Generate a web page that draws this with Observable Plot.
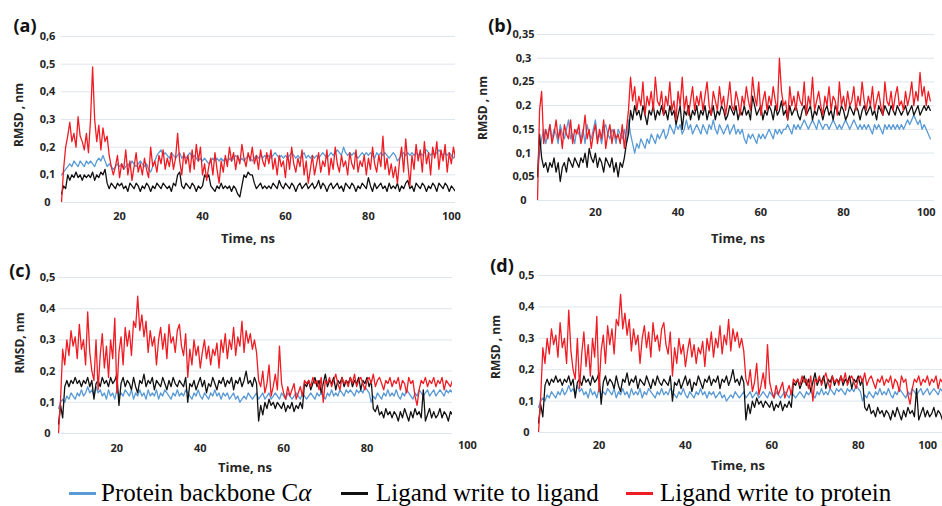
<!DOCTYPE html>
<html><head><meta charset="utf-8">
<script src="https://cdn.jsdelivr.net/npm/d3@7"></script>
<script src="https://cdn.jsdelivr.net/npm/@observablehq/plot@0.6"></script>
<style>
body{margin:0;background:#fff;overflow:hidden}
#root{position:relative;width:942px;height:506px;overflow:hidden;background:#fff}
#root svg{position:absolute;overflow:visible}
.leg{position:absolute;font-family:"Liberation Serif","Times New Roman",serif;font-size:25px;color:#000;white-space:nowrap;line-height:25px;top:480px}
.sw{position:absolute;height:3px;top:492px;width:27px}
</style></head><body><div id="root"></div>
<script>
// time grid: t = 6 ns + 0.5 ns * index
const T0 = 6, STEP = 0.5;
const seriesNames = ["Protein backbone Cα", "Ligand write to ligand", "Ligand write to protein"];
const seriesColors = ["#5b9bd5", "#111111", "#ee1d24"];

// Panel (a)
const blueA = [.1,.11,.12,.13,.14,.13,.15,.14,.13,.15,.14,.13,.15,.14,.15,.14,.13,.15,.16,.15,
.17,.15,.13,.14,.13,.12,.13,.14,.13,.14,.12,.13,.14,.13,.15,.14,.13,.14,.15,.14,
.13,.14,.12,.11,.13,.15,.17,.18,.19,.17,.18,.17,.16,.18,.17,.16,.17,.18,.16,.17,
.16,.17,.18,.16,.17,.16,.15,.16,.15,.16,.15,.14,.15,.16,.15,.16,.15,.16,.15,.16,
.15,.16,.15,.16,.17,.16,.15,.16,.15,.16,.17,.16,.15,.16,.17,.16,.17,.16,.17,.16,
.17,.16,.17,.18,.17,.16,.17,.16,.17,.16,.17,.18,.17,.16,.17,.16,.17,.18,.16,.17,
.16,.17,.16,.17,.16,.17,.18,.17,.16,.17,.18,.17,.18,.19,.18,.17,.2,.18,.17,.18,
.17,.18,.17,.16,.17,.18,.17,.18,.17,.18,.17,.16,.18,.17,.18,.17,.18,.17,.16,.17,
.18,.17,.15,.16,.17,.18,.17,.18,.17,.18,.17,.18,.17,.18,.17,.18,.19,.18,.17,.18,
.17,.18,.19,.18,.17,.18,.17,.18,.17,.16,.17];
const blackA = [.03,.06,.05,.1,.08,.1,.09,.11,.09,.1,.08,.1,.09,.1,.09,.11,.08,.1,.09,.11,
.1,.12,.07,.05,.07,.06,.05,.07,.06,.07,.05,.06,.04,.07,.06,.05,.07,.06,.04,.06,
.05,.07,.06,.04,.06,.05,.07,.06,.05,.07,.06,.05,.06,.04,.07,.06,.1,.11,.06,.05,
.07,.06,.05,.07,.06,.04,.06,.05,.06,.1,.09,.1,.06,.05,.04,.06,.05,.07,.05,.06,
.05,.06,.04,.06,.05,.03,.02,.06,.1,.09,.11,.1,.1,.07,.05,.06,.07,.05,.06,.05,
.06,.05,.07,.06,.05,.08,.06,.05,.07,.06,.05,.07,.06,.04,.06,.07,.05,.06,.07,.05,
.06,.07,.05,.06,.08,.05,.07,.06,.04,.06,.07,.05,.06,.07,.05,.06,.04,.07,.06,.05,
.07,.06,.04,.06,.05,.07,.06,.05,.09,.06,.04,.07,.05,.06,.07,.05,.06,.04,.07,.05,
.06,.05,.07,.04,.06,.05,.07,.08,.05,.06,.04,.07,.06,.05,.07,.06,.04,.06,.05,.07,
.06,.04,.07,.06,.05,.07,.06,.04,.06,.05,.04];
const redA = [0,.12,.2,.24,.29,.22,.25,.2,.31,.24,.22,.19,.25,.18,.3,.49,.3,.22,.28,.19,
.27,.22,.24,.17,.13,.1,.13,.17,.09,.14,.12,.19,.1,.15,.08,.13,.18,.11,.14,.1,
.16,.12,.09,.2,.13,.15,.11,.17,.14,.19,.12,.16,.13,.18,.12,.16,.25,.15,.1,.18,
.14,.17,.11,.19,.12,.21,.15,.2,.1,.14,.08,.13,.16,.1,.18,.12,.07,.15,.11,.17,
.13,.2,.15,.18,.12,.17,.14,.21,.16,.13,.18,.15,.2,.14,.17,.12,.19,.15,.13,.18,
.14,.19,.12,.16,.1,.17,.13,.15,.09,.18,.12,.2,.14,.11,.16,.13,.19,.1,.15,.07,
.12,.17,.1,.14,.18,.11,.15,.13,.19,.1,.16,.12,.2,.14,.11,.17,.13,.15,.1,.18,
.14,.12,.19,.11,.15,.13,.17,.1,.16,.12,.2,.14,.11,.17,.13,.24,.12,.16,.1,.14,
.09,.13,.07,.15,.2,.11,.23,.14,.06,.17,.12,.21,.15,.19,.11,.22,.14,.18,.1,.2,
.16,.22,.12,.19,.15,.21,.11,.18,.14,.2,.16];

// Panel (b)
const blueB = [.05,.1,.13,.15,.12,.14,.16,.13,.15,.14,.12,.16,.14,.13,.15,.17,.13,.14,.12,.15,
.14,.13,.15,.12,.16,.14,.13,.15,.17,.13,.14,.12,.15,.16,.14,.13,.15,.14,.12,.15,
.14,.13,.15,.12,.17,.14,.12,.1,.12,.11,.13,.12,.11,.13,.12,.14,.13,.12,.14,.13,
.14,.15,.13,.14,.16,.15,.14,.16,.15,.16,.14,.15,.17,.15,.16,.14,.15,.16,.15,.14,
.16,.15,.14,.16,.15,.17,.15,.14,.16,.15,.14,.15,.16,.14,.15,.16,.14,.15,.14,.15,
.13,.12,.14,.13,.14,.13,.12,.14,.13,.14,.13,.14,.15,.14,.13,.15,.14,.15,.14,.15,
.15,.16,.15,.14,.16,.15,.16,.15,.16,.17,.16,.15,.16,.17,.16,.15,.17,.16,.15,.16,
.16,.15,.16,.17,.16,.15,.16,.15,.16,.17,.16,.15,.16,.17,.16,.15,.16,.15,.16,.15,
.16,.15,.14,.16,.15,.16,.15,.14,.16,.15,.16,.15,.16,.15,.16,.15,.16,.15,.16,.17,
.16,.17,.18,.17,.16,.17,.15,.16,.15,.14,.13];
const blackB = [.05,.14,.09,.07,.08,.06,.08,.07,.09,.06,.08,.04,.07,.08,.06,.09,.08,.07,.09,.08,
.07,.09,.08,.1,.07,.11,.09,.08,.1,.07,.09,.08,.06,.09,.08,.07,.09,.06,.08,.05,
.08,.07,.09,.12,.14,.19,.17,.2,.18,.19,.17,.2,.18,.16,.19,.18,.2,.17,.19,.18,
.2,.18,.19,.17,.2,.18,.19,.16,.18,.2,.15,.19,.18,.2,.17,.19,.18,.2,.17,.19,
.18,.2,.17,.19,.18,.2,.17,.19,.18,.2,.19,.17,.18,.2,.19,.18,.2,.17,.19,.18,
.2,.18,.19,.17,.22,.2,.18,.19,.2,.17,.19,.18,.2,.19,.17,.2,.18,.19,.21,.18,
.19,.17,.2,.18,.19,.2,.18,.17,.19,.2,.18,.19,.2,.17,.19,.18,.2,.19,.17,.19,
.2,.18,.19,.17,.2,.19,.18,.2,.19,.17,.18,.2,.19,.18,.2,.19,.17,.19,.2,.18,
.19,.2,.18,.19,.17,.2,.19,.18,.2,.19,.18,.2,.19,.18,.2,.19,.18,.19,.2,.18,
.19,.2,.18,.19,.2,.18,.19,.2,.19,.2,.19];
const redB = [0,.19,.23,.12,.15,.13,.16,.12,.14,.17,.13,.15,.11,.16,.14,.13,.17,.12,.15,.14,
.16,.12,.14,.18,.13,.15,.11,.14,.16,.12,.15,.13,.17,.11,.14,.16,.12,.15,.13,.14,
.12,.16,.11,.15,.19,.26,.21,.24,.19,.22,.2,.25,.18,.22,.2,.23,.19,.26,.21,.2,
.23,.18,.22,.2,.25,.19,.21,.17,.23,.2,.26,.19,.22,.18,.21,.24,.19,.22,.2,.23,
.19,.22,.25,.2,.18,.23,.21,.19,.24,.2,.22,.18,.21,.25,.2,.19,.23,.21,.18,.22,
.2,.24,.21,.19,.26,.22,.2,.25,.18,.21,.23,.19,.22,.2,.24,.21,.19,.3,.23,.2,
.21,.17,.24,.2,.22,.19,.23,.21,.2,.25,.18,.22,.2,.26,.19,.21,.23,.2,.18,.22,
.2,.24,.19,.22,.21,.18,.25,.2,.22,.19,.23,.2,.21,.24,.19,.22,.2,.25,.21,.19,
.22,.2,.24,.19,.21,.23,.2,.18,.25,.21,.2,.23,.19,.22,.24,.2,.21,.19,.23,.2,
.22,.25,.2,.23,.21,.27,.22,.24,.2,.23,.21];

// Panels (c) and (d) show the same run
const blueCD = [.08,.1,.11,.1,.12,.11,.13,.12,.11,.13,.12,.14,.12,.13,.15,.13,.14,.12,.15,.13,
.14,.12,.13,.11,.14,.12,.13,.11,.14,.12,.13,.12,.14,.13,.12,.14,.11,.13,.12,.14,
.12,.13,.11,.14,.12,.13,.12,.14,.11,.13,.12,.14,.13,.12,.11,.13,.12,.14,.12,.13,
.12,.14,.13,.12,.11,.13,.12,.14,.12,.11,.13,.12,.11,.13,.12,.14,.12,.13,.11,.13,
.12,.13,.11,.12,.13,.11,.12,.1,.11,.12,.11,.13,.12,.11,.12,.13,.11,.12,.13,.11,
.12,.13,.11,.12,.13,.12,.11,.13,.12,.11,.13,.12,.11,.12,.13,.12,.11,.13,.12,.11,
.12,.13,.12,.11,.13,.12,.13,.12,.11,.13,.12,.14,.12,.13,.12,.14,.13,.12,.14,.13,
.14,.13,.12,.14,.13,.14,.13,.15,.14,.13,.1,.12,.11,.13,.12,.11,.13,.12,.14,.12,
.13,.12,.14,.12,.11,.13,.12,.14,.13,.12,.11,.13,.12,.14,.13,.12,.13,.14,.12,.13,
.14,.12,.13,.14,.13,.12,.14,.13,.14,.13,.14];
const blackCD = [.03,.09,.05,.15,.17,.15,.17,.16,.18,.16,.17,.15,.17,.16,.18,.15,.17,.11,.16,.17,
.15,.18,.16,.17,.15,.18,.16,.17,.19,.09,.16,.18,.15,.17,.16,.14,.18,.15,.13,.17,
.16,.19,.15,.17,.16,.18,.14,.17,.16,.15,.18,.16,.14,.17,.15,.18,.16,.15,.17,.16,
.15,.18,.1,.16,.15,.17,.14,.16,.18,.15,.17,.13,.16,.15,.18,.16,.14,.17,.16,.18,
.15,.17,.16,.18,.14,.17,.16,.18,.15,.17,.2,.16,.17,.15,.18,.16,.04,.09,.06,.1,
.08,.11,.09,.1,.08,.1,.09,.08,.1,.07,.09,.08,.1,.07,.09,.08,.1,.08,.16,.15,
.17,.14,.16,.18,.15,.17,.13,.16,.19,.15,.17,.16,.18,.14,.17,.16,.18,.15,.17,.16,
.18,.15,.17,.16,.18,.14,.17,.16,.18,.15,.17,.08,.07,.09,.06,.07,.05,.08,.06,.07,
.05,.07,.06,.04,.07,.05,.08,.06,.04,.07,.05,.08,.06,.07,.05,.14,.04,.06,.08,.05,
.07,.05,.06,.08,.05,.07,.06,.04,.07,.06,.05];
const redCD = [0,.11,.27,.22,.3,.25,.33,.28,.31,.24,.35,.27,.3,.22,.39,.26,.2,.17,.3,.14,
.25,.32,.21,.28,.18,.3,.24,.37,.13,.26,.31,.22,.34,.28,.33,.25,.36,.34,.44,.33,
.38,.31,.36,.26,.33,.28,.31,.22,.3,.34,.27,.32,.24,.35,.29,.31,.26,.33,.35,.28,
.25,.32,.18,.27,.22,.3,.25,.28,.21,.26,.3,.24,.28,.22,.27,.25,.29,.21,.3,.26,
.32,.24,.3,.27,.34,.25,.31,.28,.36,.26,.33,.29,.32,.27,.3,.26,.17,.15,.2,.13,
.16,.22,.12,.15,.19,.14,.28,.16,.13,.11,.15,.12,.14,.16,.11,.13,.15,.12,.17,.16,
.17,.15,.18,.16,.17,.14,.18,.1,.17,.16,.18,.15,.17,.19,.16,.14,.18,.16,.17,.15,
.18,.16,.19,.15,.17,.18,.16,.14,.17,.18,.16,.19,.15,.17,.18,.16,.14,.17,.16,.18,
.15,.17,.16,.18,.14,.17,.16,.13,.18,.16,.17,.12,.09,.14,.17,.16,.18,.15,.17,.16,
.18,.15,.17,.16,.18,.14,.17,.16,.15,.17,.16];

// axis ticks
const yTicksA = [0, 0.1, 0.2, 0.3, 0.4, 0.5, 0.6];
const yTicksB = [0, 0.05, 0.1, 0.15, 0.2, 0.25, 0.3, 0.35];
const yTicksCD = [0, 0.1, 0.2, 0.3, 0.4, 0.5];
const xTicksAB = [20, 40, 60, 80, 100];
const xTicksCD = [20, 40, 60, 80];
const xLastCD = [100];
const panelLabels = ["(a)", "(b)", "(c)", "(d)"];
const yTitles = ["RMSD , nm", "RMSD , nm", "RMSD, nm", "RMSD , nm"];
const xTitle = "Time, ns";

const fmt = d => String(d).replace(".", ",");
const root = document.getElementById("root");

const panels = [
  {label: panelLabels[0], yTitle: yTitles[0], left: 0, top: 0, width: 470, height: 250, mL: 61, mR: 15, mT: 36, mB: 48,
   xDom: [6, 101], yMax: 0.6, yTicks: yTicksA, ydx: -14, xTicks: xTicksAB, xdy: 14, extra: null,
   series: [blueA, blackA, redA], lab: [25, 25], yt: [18, 115], xt: [248, 238]},
  {label: panelLabels[1], yTitle: yTitles[1], left: 470, top: 0, width: 472, height: 250, mL: 67, mR: 8, mT: 34, mB: 50,
   xDom: [6, 102], yMax: 0.35, yTicks: yTicksB, ydx: -14, xTicks: xTicksAB, xdy: 12, extra: null,
   series: [blueB, blackB, redB], lab: [30, 25], yt: [12, 108], xt: [268, 238]},
  {label: panelLabels[2], yTitle: yTitles[2], left: 0, top: 250, width: 470, height: 225, mL: 58, mR: 18, mT: 27, mB: 42,
   xDom: [6, 100.5], yMax: 0.5, yTicks: yTicksCD, ydx: -11, xTicks: xTicksCD, xdy: 15, extra: {dx: 17, dy: 12},
   series: [blueCD, blackCD, redCD], lab: [20, 20], yt: [19, 93], xt: [245, 217]},
  {label: panelLabels[3], yTitle: yTitles[3], left: 470, top: 250, width: 472, height: 225, mL: 68, mR: 0, mT: 25, mB: 43,
   xDom: [6, 99.5], yMax: 0.5, yTicks: yTicksCD, ydx: -12, xTicks: xTicksCD, xdy: 13, extra: {dx: -17, dy: 13},
   series: [blueCD, blackCD, redCD], lab: [32, 15], yt: [25, 97], xt: [268, 215]}
];

for (const p of panels) {
  const marks = [
    Plot.ruleY(p.yTicks, {y: d => d, stroke: "#dfe5ed", strokeWidth: 1}),
    ...p.series.map((vals, k) => Plot.line(vals, {x: (d, i) => T0 + i * STEP, y: d => d, stroke: seriesColors[k], strokeWidth: 1.3, clip: true})),
    Plot.text(p.yTicks, {y: d => d, frameAnchor: "left", dx: p.ydx, textAnchor: "middle", lineAnchor: "middle", text: fmt}),
    Plot.text(p.xTicks, {x: d => d, frameAnchor: "bottom", dy: p.xdy, lineAnchor: "middle", text: d => String(d)})
  ];
  if (p.extra) marks.push(Plot.text(xLastCD, {x: d => d, frameAnchor: "bottom", dx: p.extra.dx, dy: p.extra.dy, lineAnchor: "middle", text: d => String(d)}));
  const svg = Plot.plot({
    width: p.width, height: p.height,
    marginLeft: p.mL, marginRight: p.mR, marginTop: p.mT, marginBottom: p.mB,
    x: {domain: p.xDom, axis: null},
    y: {domain: [0, p.yMax], axis: null},
    style: {fontFamily: "'Open Sans', sans-serif", fontSize: "11px", fontWeight: "700", color: "#262626", background: "transparent", overflow: "visible"},
    marks
  });
  svg.style.left = p.left + "px";
  svg.style.top = p.top + "px";
  const s = d3.select(svg);
  s.append("text").attr("x", p.lab[0]).attr("y", p.lab[1]).attr("text-anchor", "middle").attr("dominant-baseline", "central")
    .attr("font-size", 18).attr("font-weight", 700).attr("fill", "#111").text(p.label);
  s.append("text").attr("transform", `translate(${p.yt[0]},${p.yt[1]}) rotate(-90)`).attr("text-anchor", "middle").attr("dominant-baseline", "central")
    .attr("font-size", 12).attr("font-weight", 700).attr("fill", "#262626").text(p.yTitle);
  s.append("text").attr("x", p.xt[0]).attr("y", p.xt[1]).attr("text-anchor", "middle").attr("dominant-baseline", "central")
    .attr("font-size", 13).attr("font-weight", 700).attr("fill", "#262626").text(xTitle);
  root.appendChild(svg);
}

// legend
const legPos = [[69, 101], [341, 376], [626, 660]];
seriesNames.forEach((name, k) => {
  const sw = document.createElement("div");
  sw.className = "sw"; sw.style.left = legPos[k][0] + "px"; sw.style.background = seriesColors[k];
  root.appendChild(sw);
  const t = document.createElement("div");
  t.className = "leg"; t.style.left = legPos[k][1] + "px";
  t.innerHTML = k === 0 ? "Protein backbone C<i>α</i>" : name;
  root.appendChild(t);
});
</script></body></html>
